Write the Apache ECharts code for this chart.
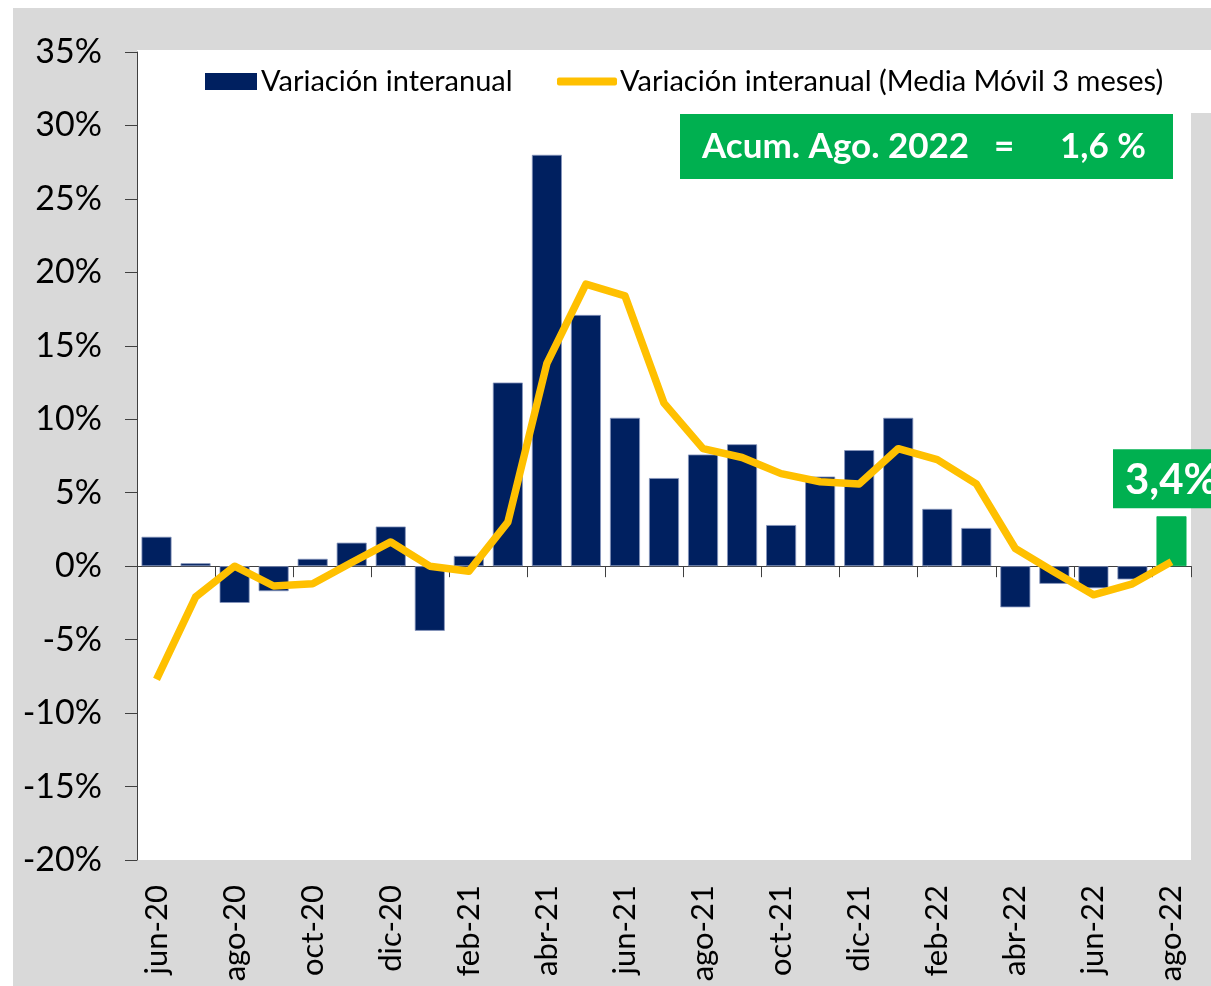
<!DOCTYPE html>
<html>
<head>
<meta charset="utf-8">
<script src="https://cdn.jsdelivr.net/npm/echarts@6/dist/echarts.min.js"></script>
<style>
html,body{margin:0;padding:0;background:#fff;}
#chart{width:1211px;height:986px;}
</style>
</head>
<body>
<div id="chart"></div>
<script>
const categories = ['jun-20','jul-20','ago-20','sep-20','oct-20','nov-20','dic-20','ene-21','feb-21','mar-21','abr-21','may-21','jun-21','jul-21','ago-21','sep-21','oct-21','nov-21','dic-21','ene-22','feb-22','mar-22','abr-22','may-22','jun-22','jul-22','ago-22'];
const barValues = [2.0,0.2,-2.5,-1.7,0.5,1.6,2.7,-4.4,0.7,12.5,28.0,17.1,10.1,6.0,7.6,8.3,2.8,6.1,7.9,10.1,3.9,2.6,-2.8,-1.2,-1.5,-0.9,3.4];
const lineValues = [-7.7,-2.1,0.0,-1.35,-1.2,0.25,1.65,0.0,-0.35,3.0,13.8,19.2,18.4,11.1,8.0,7.4,6.3,5.75,5.6,8.0,7.25,5.6,1.2,-0.4,-1.95,-1.2,0.3];
const seriesNames = ['Variación interanual','Variación interanual (Media Móvil 3 meses)'];
const yMin = -20, yMax = 35, yStep = 5;
const lastLabel = '3,4%';
const accumText = ['Acum. Ago. 2022', '=', '1,6 %'];

const FONT = 'Lato';
const NAVY = '#002060', YELLOW = '#FFC000', GREEN = '#00B050', GRAY = '#D9D9D9';

const barData = barValues.map((v, i) => {
  if (i === barValues.length - 1) {
    return {
      value: v,
      itemStyle: { color: GREEN, borderColor: GREEN },
      label: {
        show: true, position: 'top', distance: 8, formatter: lastLabel,
        color: '#fff', fontFamily: FONT, fontWeight: 'bold', fontSize: 42,
        backgroundColor: GREEN, padding: [9, 12, 6, 12], lineHeight: 44
      }
    };
  }
  return v;
});

const chart = echarts.init(document.getElementById('chart'), null, { renderer: 'canvas' });
chart.setOption({
  animation: false,
  backgroundColor: '#fff',
  textStyle: { fontFamily: FONT },
  graphic: [
    { type: 'rect', z: -20, shape: { x: 13, y: 8, width: 1198, height: 978 }, style: { fill: GRAY } },
    { type: 'rect', z: -19, shape: { x: 137, y: 50, width: 1054, height: 810 }, style: { fill: '#fff' } },
    { type: 'rect', z: -19, shape: { x: 1190, y: 50, width: 21, height: 63 }, style: { fill: '#fff' } },
    { type: 'rect', z: 10, shape: { x: 680, y: 114, width: 493, height: 65 }, style: { fill: GREEN } },
    { type: 'text', z: 11, x: 702, y: 147, style: { text: accumText[0], fill: '#fff', font: 'bold 35px Lato', textVerticalAlign: 'middle' } },
    { type: 'text', z: 11, x: 994, y: 147, style: { text: accumText[1], fill: '#fff', font: 'bold 35px Lato', textVerticalAlign: 'middle' } },
    { type: 'text', z: 11, x: 1060, y: 147, style: { text: accumText[2], fill: '#fff', font: 'bold 35px Lato', textVerticalAlign: 'middle' } }
  ],
  legend: [
    {
      data: [seriesNames[0]], left: 205, top: 67, itemWidth: 52, itemHeight: 17, itemGap: 0,
      icon: 'rect', padding: 0,
      itemStyle: { borderWidth: 0 },
      textStyle: { fontFamily: FONT, fontSize: 29, color: '#000', padding: [0, 0, 0, -1] }
    },
    {
      data: [{ name: seriesNames[1], icon: 'roundRect' }], left: 557, top: 67, itemWidth: 60, itemHeight: 8, padding: 0,
      itemStyle: { borderWidth: 0 },
      textStyle: { fontFamily: FONT, fontSize: 29, color: '#000', padding: [0, 0, 0, -2] }
    }
  ],
  grid: { left: 137, right: 20, top: 52, bottom: 126, containLabel: false },
  xAxis: [
    {
      type: 'category', data: categories, position: 'bottom',
      axisLine: { show: true, onZero: true, lineStyle: { color: '#404040', width: 1 } },
      axisTick: { show: true, interval: 1, length: 11, lineStyle: { color: '#404040' } },
      axisLabel: { show: false }, splitLine: { show: false }
    },
    {
      type: 'category', data: categories, position: 'bottom',
      axisLine: { show: false, onZero: false }, axisTick: { show: false },
      axisLabel: { show: true, interval: 1, rotate: 90, margin: 25, fontFamily: FONT, fontSize: 31, color: '#000' },
      splitLine: { show: false }
    }
  ],
  yAxis: {
    type: 'value', min: yMin, max: yMax, interval: yStep,
    axisLine: { show: true, lineStyle: { color: '#404040', width: 1 } },
    axisTick: { show: true, length: 12, lineStyle: { color: '#404040' } },
    axisLabel: { margin: 35, formatter: '{value}%', fontFamily: FONT, fontSize: 34, color: '#000' },
    splitLine: { show: false }
  },
  series: [
    {
      name: seriesNames[0], type: 'bar', xAxisIndex: 0, data: barData, barWidth: 30,
      itemStyle: { color: NAVY, borderColor: '#8796bd', borderWidth: 0.8 }, z: 2
    },
    {
      name: seriesNames[1], type: 'line', xAxisIndex: 0, data: lineValues,
      symbol: 'none', showSymbol: false,
      lineStyle: { color: YELLOW, width: 7.5, join: 'round' }, itemStyle: { color: YELLOW }, z: 3
    }
  ]
});
</script>
</body>
</html>
